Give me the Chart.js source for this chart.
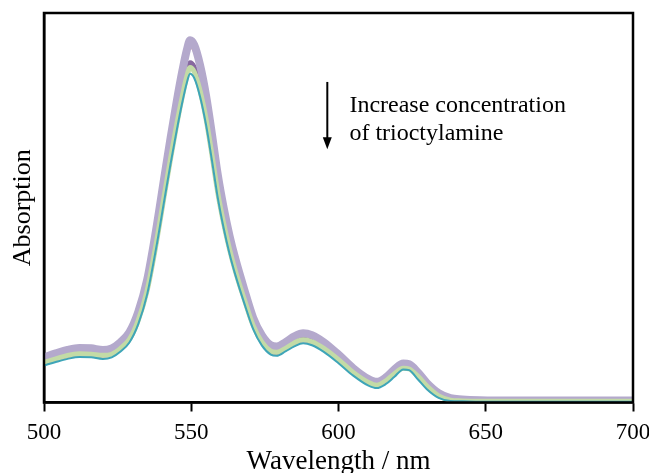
<!DOCTYPE html>
<html>
<head>
<meta charset="utf-8">
<title>Absorption spectra</title>
<script src="https://cdn.jsdelivr.net/npm/chart.js@4/dist/chart.umd.min.js"></script>
<style>
    html, body { margin: 0; padding: 0; background: #ffffff; }
    canvas { display: block; }
</style>
</head>
<body>
<canvas id="chart" width="649" height="473"></canvas>
<script>
'use strict';

// wavelength grid (nm), shared by every spectrum
var wavelengths = [500, 504, 508, 512, 516, 520, 523, 526, 529, 532, 535, 538,
    541, 543, 545, 547, 548.5, 549.6, 551, 553, 555, 557, 559, 561,
    563, 565, 568, 571, 574, 577, 579, 582, 585, 588, 591, 595,
    600, 605, 610, 613, 616, 619, 622, 624, 627, 630, 634, 638,
    642, 648, 660, 680, 700];

// absorption, lowest amine concentration
var absPurple = [0.116, 0.126, 0.135, 0.140, 0.139, 0.135, 0.139, 0.155, 0.180, 0.232, 0.314, 0.440,
    0.585, 0.680, 0.770, 0.852, 0.905, 0.930, 0.918, 0.866, 0.789, 0.690, 0.585, 0.500,
    0.428, 0.368, 0.290, 0.218, 0.172, 0.147, 0.144, 0.155, 0.170, 0.178, 0.173, 0.155,
    0.123, 0.088, 0.061, 0.053, 0.064, 0.085, 0.100, 0.098, 0.077, 0.050, 0.024, 0.011,
    0.008, 0.006, 0.005, 0.005, 0.005];

var absPink = [0.100, 0.109, 0.117, 0.122, 0.121, 0.118, 0.122, 0.138, 0.163, 0.214, 0.296, 0.425,
    0.568, 0.662, 0.752, 0.832, 0.887, 0.913, 0.901, 0.848, 0.771, 0.674, 0.570, 0.485,
    0.412, 0.350, 0.270, 0.198, 0.152, 0.128, 0.125, 0.136, 0.149, 0.157, 0.152, 0.135,
    0.106, 0.074, 0.049, 0.042, 0.052, 0.071, 0.088, 0.086, 0.065, 0.040, 0.016, 0.006,
    0.004, 0.003, 0.003, 0.003, 0.003];

var absViolet = [0.107, 0.116, 0.125, 0.130, 0.129, 0.125, 0.129, 0.144, 0.167, 0.216, 0.293, 0.412,
    0.548, 0.637, 0.722, 0.799, 0.849, 0.872, 0.861, 0.812, 0.740, 0.647, 0.548, 0.468,
    0.400, 0.344, 0.271, 0.203, 0.160, 0.136, 0.133, 0.144, 0.158, 0.165, 0.161, 0.143,
    0.114, 0.081, 0.055, 0.048, 0.058, 0.078, 0.092, 0.090, 0.070, 0.045, 0.021, 0.008,
    0.006, 0.004, 0.004, 0.004, 0.004];

var absGreen = [0.103, 0.112, 0.121, 0.125, 0.124, 0.121, 0.124, 0.139, 0.162, 0.211, 0.287, 0.404,
    0.539, 0.627, 0.711, 0.787, 0.837, 0.860, 0.849, 0.800, 0.729, 0.637, 0.539, 0.460,
    0.393, 0.337, 0.265, 0.198, 0.155, 0.132, 0.129, 0.139, 0.153, 0.161, 0.156, 0.139,
    0.110, 0.077, 0.052, 0.044, 0.055, 0.074, 0.088, 0.086, 0.067, 0.042, 0.017, 0.006,
    0.004, 0.003, 0.003, 0.003, 0.003];

// absorption, highest amine concentration
var absTeal = [0.095, 0.104, 0.112, 0.117, 0.116, 0.112, 0.116, 0.131, 0.154, 0.201, 0.277, 0.393,
    0.526, 0.614, 0.696, 0.772, 0.821, 0.844, 0.833, 0.785, 0.714, 0.623, 0.526, 0.448,
    0.382, 0.327, 0.255, 0.189, 0.146, 0.123, 0.120, 0.131, 0.144, 0.152, 0.147, 0.130,
    0.101, 0.069, 0.044, 0.037, 0.047, 0.066, 0.085, 0.083, 0.059, 0.034, 0.012, 0.004,
    0.003, 0.002, 0.002, 0.002, 0.002];

var xTicks = [500, 550, 600, 650, 700];

var serif = 'Liberation Serif, Times New Roman, serif';

function toPoints(values) {
    return wavelengths.map(function (w, i) {
        return { x: w, y: values[i] };
    });
}

function spectrum(values, color, width) {
    return {
        data: toPoints(values),
        borderColor: color,
        borderWidth: width,
        pointRadius: 0,
        fill: false,
        cubicInterpolationMode: 'monotone',
        borderCapStyle: 'round',
        borderJoinStyle: 'round'
    };
}

// first dataset ends up on top
var datasets = [
    spectrum(absTeal, '#3ea5b8', 2),
    spectrum(absGreen, '#c3dba6', 5),
    spectrum(absPurple, '#b4a9cc', 8),
    spectrum(absPink, '#eaa797', 2.5),
    spectrum(absViolet, '#87689f', 5)
];

// frame around the plot, plus the arrow and its note
var framePlugin = {
    id: 'frame',
    afterDraw: function (chart) {
        var ctx = chart.ctx;
        var area = chart.chartArea;
        var xs = chart.scales.x;
        var ys = chart.scales.y;

        ctx.save();
        ctx.strokeStyle = '#000000';
        ctx.lineWidth = 2.5;
        ctx.strokeRect(area.left, area.top, area.right - area.left, area.bottom - area.top);

        var ax = xs.getPixelForValue(596.2);
        var y0 = ys.getPixelForValue(0.823);
        var y1 = ys.getPixelForValue(0.650);
        ctx.lineWidth = 2;
        ctx.beginPath();
        ctx.moveTo(ax, y0);
        ctx.lineTo(ax, y1 - 10);
        ctx.stroke();
        ctx.fillStyle = '#000000';
        ctx.beginPath();
        ctx.moveTo(ax - 4.5, y1 - 12);
        ctx.lineTo(ax + 4.5, y1 - 12);
        ctx.lineTo(ax, y1);
        ctx.closePath();
        ctx.fill();

        ctx.font = '24px ' + serif;
        ctx.textAlign = 'left';
        ctx.textBaseline = 'alphabetic';
        var tx = xs.getPixelForValue(603.7);
        ctx.fillText('Increase concentration', tx, ys.getPixelForValue(0.746));
        ctx.fillText('of trioctylamine', tx, ys.getPixelForValue(0.675));
        ctx.restore();
    }
};

var ctx = document.getElementById('chart');

var chart = new Chart(ctx, {
    type: 'line',
    data: {
        datasets: datasets
    },
    options: {
        responsive: false,
        animation: false,
        devicePixelRatio: 1,
        layout: {
            padding: { left: 10, right: 16, top: 13, bottom: 0 }
        },
        plugins: {
            legend: { display: false },
            tooltip: { enabled: false }
        },
        scales: {
            x: {
                type: 'linear',
                min: 500,
                max: 700,
                afterBuildTicks: function (axis) {
                    axis.ticks = xTicks.map(function (v) { return { value: v }; });
                },
                afterFit: function (axis) {
                    // let the end labels hang over the frame edges
                    axis.paddingLeft = 0;
                    axis.paddingRight = 0;
                },
                ticks: {
                    color: '#000000',
                    font: { family: serif, size: 23, lineHeight: 1 },
                    padding: 9.5,
                    maxRotation: 0
                },
                grid: {
                    display: true,
                    drawOnChartArea: false,
                    drawTicks: true,
                    tickLength: 9,
                    tickWidth: 2,
                    tickColor: '#000000'
                },
                border: { display: true, color: '#000000', width: 2.5 },
                title: {
                    display: true,
                    text: 'Wavelength / nm',
                    color: '#000000',
                    font: { family: serif, size: 27, lineHeight: 1 },
                    padding: { top: -5.5, bottom: -2 }
                }
            },
            y: {
                min: 0,
                max: 1,
                ticks: { display: false },
                grid: { display: false, drawTicks: false },
                border: { display: true, color: '#000000', width: 2.5 },
                title: {
                    display: true,
                    text: 'Absorption',
                    color: '#000000',
                    font: { family: serif, size: 26, lineHeight: 1 },
                    padding: { top: 0, bottom: 8 }
                }
            }
        }
    },
    plugins: [framePlugin]
});
</script>
</body>
</html>
